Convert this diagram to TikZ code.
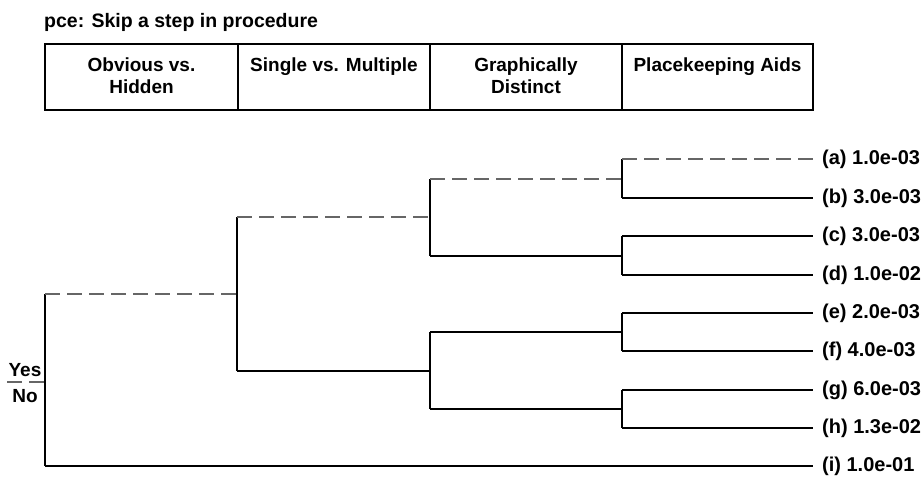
\documentclass[tikz,border=0pt]{standalone}
\usepackage{fontspec}
\setmainfont{Liberation Sans}
\begin{document}
\begin{tikzpicture}[x=1pt,y=-1pt,
  txt/.style={font=\bfseries\fontsize{19}{22}\selectfont, inner sep=0pt},
  hdr/.style={txt, align=center, anchor=north},
  leaflab/.style={txt, font=\bfseries\fontsize{20}{22}\selectfont, anchor=west, inner xsep=9pt},
  solidln/.style={line width=1.7pt, black},
  dashln/.style={line width=1.5pt, black!60, dash pattern=on 15pt off 7pt},
  boxln/.style={line width=1.2pt, black}]
\useasboundingbox (0,0) rectangle (922,477);
% title
\node[txt, font=\bfseries\fontsize{19.5}{22}\selectfont, anchor=base west] (title) at (44,27) {pce: Skip a step in procedure};
% header table
\draw[boxln] (45,44) rectangle (813,110);
\draw[boxln] (238,44) -- (238,110) (430,44) -- (430,110) (622,44) -- (622,110);
\node[hdr] (h1) at (141.5,58) {Obvious vs.\\Hidden};
\node[hdr] (h2) at (334,58) {Single vs. Multiple};
\node[hdr] (h3) at (526,58) {Graphically\\Distinct};
\node[hdr] (h4) at (717.5,58) {Placekeeping Aids};
% junction coordinates
\coordinate (rY) at (45,294);
\coordinate (rN) at (45,466);
\coordinate (sep) at (45,382);
\coordinate (sepL) at (7,382);
\coordinate (n1Y) at (237,217);
\coordinate (n1N) at (237,371);
\coordinate (n1) at (237,294);
\coordinate (n2aY) at (430,179);
\coordinate (n2aN) at (430,256);
\coordinate (n2a) at (430,217);
\coordinate (n2bY) at (430,332);
\coordinate (n2bN) at (430,409);
\coordinate (n2b) at (430,371);
\coordinate (n3a) at (622,179);
\coordinate (n3aY) at (622,159);
\coordinate (n3aN) at (622,198);
\coordinate (n3b) at (622,256);
\coordinate (n3bY) at (622,236);
\coordinate (n3bN) at (622,275);
\coordinate (n3c) at (622,332);
\coordinate (n3cY) at (622,313);
\coordinate (n3cN) at (622,351);
\coordinate (n3d) at (622,409);
\coordinate (n3dY) at (622,390);
\coordinate (n3dN) at (622,428);
% leaf labels
\node[leaflab] (la) at (813,159) {(a) 1.0e-03};
\node[leaflab] (lb) at (813,198) {(b) 3.0e-03};
\node[leaflab] (lc) at (813,236) {(c) 3.0e-03};
\node[leaflab] (ld) at (813,275) {(d) 1.0e-02};
\node[leaflab] (le) at (813,313) {(e) 2.0e-03};
\node[leaflab] (lf) at (813,351) {(f) 4.0e-03};
\node[leaflab] (lg) at (813,390) {(g) 6.0e-03};
\node[leaflab] (lh) at (813,428) {(h) 1.3e-02};
\node[leaflab] (li) at (813,466) {(i) 1.0e-01};
% Yes / No
\node[txt, anchor=base] (yes) at (25,376) {Yes};
\node[txt, anchor=base] (no) at (25,402) {No};
\draw[dashln] (sepL) -- (sep);
% tree
\draw[solidln] (rY) -- (rN);
\draw[dashln] (rY) -- (n1);
\draw[solidln] (rN) -- (li.west);
\draw[solidln] (n1Y) -- (n1N);
\draw[dashln] (n1Y) -- (n2a);
\draw[solidln] (n1N) -- (n2b);
\draw[solidln] (n2aY) -- (n2aN);
\draw[dashln] (n2aY) -- (n3a);
\draw[solidln] (n2aN) -- (n3b);
\draw[solidln] (n2bY) -- (n2bN);
\draw[solidln] (n2bY) -- (n3c);
\draw[solidln] (n2bN) -- (n3d);
\draw[solidln] (n3aY) -- (n3aN);
\draw[dashln] (n3aY) -- (la.west);
\draw[solidln] (n3aN) -- (lb.west);
\draw[solidln] (n3bY) -- (n3bN);
\draw[solidln] (n3bY) -- (lc.west);
\draw[solidln] (n3bN) -- (ld.west);
\draw[solidln] (n3cY) -- (n3cN);
\draw[solidln] (n3cY) -- (le.west);
\draw[solidln] (n3cN) -- (lf.west);
\draw[solidln] (n3dY) -- (n3dN);
\draw[solidln] (n3dY) -- (lg.west);
\draw[solidln] (n3dN) -- (lh.west);
\end{tikzpicture}
\end{document}
